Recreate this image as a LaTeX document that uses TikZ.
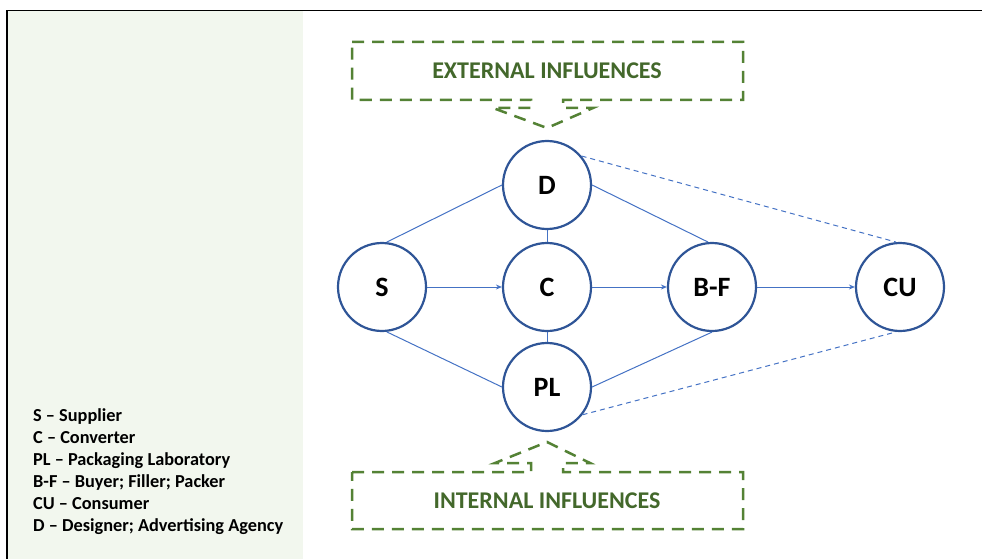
\documentclass[tikz,border=0pt]{standalone}
\usepackage{fontspec}
\setmainfont{Carlito}
\usetikzlibrary{arrows.meta}
\definecolor{circblue}{HTML}{2F5597}
\definecolor{linkblue}{HTML}{4472C4}
\definecolor{dgreen}{HTML}{548235}
\definecolor{tgreen}{HTML}{43682B}
\definecolor{panel}{HTML}{F2F7EE}
\tikzset{
  actor/.style={circle, draw=circblue, line width=2.2pt, fill=white, minimum size=88pt, inner sep=0pt,
    font=\fontsize{28}{32}\selectfont\bfseries, text=black},
  link/.style={draw=linkblue, line width=1pt},
  flow/.style={link, -{Stealth[length=6pt,width=5pt]}},
  weak/.style={link, dash pattern=on 5pt off 4pt},
  callout/.style={draw=dgreen, line width=2.5pt, dash pattern=on 12pt off 8pt},
  infl/.style={font=\fontsize{24}{28}\selectfont\bfseries, text=tgreen},
  legend/.style={anchor=base west, inner sep=0pt, font=\fontsize{18.3}{22}\selectfont\bfseries, text=black}
}
\begin{document}
\begin{tikzpicture}[x=1pt,y=-1pt]
\useasboundingbox (0,0) rectangle (982,559);
% background panel and frame
\fill[panel] (8,11) rectangle (303,559);
\draw[line width=1.8pt, black] (7,559) -- (7,10.5) -- (982,10.5);

% callouts
\draw[callout] (352,42) -- (743,42) -- (743,100) -- (563,100) -- (563,108) -- (593,108)
  -- (547,128) -- (493,108) -- (531,108) -- (531,100) -- (352,100) -- cycle;
\node[infl] (ext) at (547,71) {EXTERNAL INFLUENCES};
\draw[callout] (352,472) -- (531,472) -- (531,463) -- (495,463) -- (547,442) -- (590,463)
  -- (563,463) -- (563,472) -- (743,472) -- (743,529) -- (352,529) -- cycle;
\node[infl] (int) at (547,501) {INTERNAL INFLUENCES};

% actors
\node[actor] (S)  at (382,287) {S};
\node[actor] (D)  at (547,185) {D};
\node[actor] (C)  at (547,287) {C};
\node[actor] (PL) at (547,387) {PL};
\node[actor] (BF) at (712,287) {B-F};
\node[actor] (CU) at (900,287) {CU};

% connectors
\draw[link] (S.84) -- (D.west);
\draw[link] (S.-84) -- (PL.west);
\draw[link] (D.east) -- (BF.95);
\draw[link] (PL.east) -- (BF.-90);
\draw[link] (C.north) -- (D.south);
\draw[link] (C.south) -- (PL.north);
\draw[flow] (S.east) -- (C.west);
\draw[flow] (C.east) -- (BF.west);
\draw[flow] (BF.east) -- (CU.west);
\draw[weak] (D.40) -- (CU.95);
\draw[weak] (PL.-38) -- (CU.-95);

% legend
\node[legend] (l1) at (33,421.7) {S – Supplier};
\node[legend] (l2) at (33,443.7) {C – Converter};
\node[legend] (l3) at (33,465.7) {PL – Packaging Laboratory};
\node[legend] (l4) at (33,487.7) {B-F – Buyer; Filler; Packer};
\node[legend] (l5) at (33,509.7) {CU – Consumer};
\node[legend] (l6) at (33,531.7) {D – Designer; Advertising Agency};
\end{tikzpicture}
\end{document}
